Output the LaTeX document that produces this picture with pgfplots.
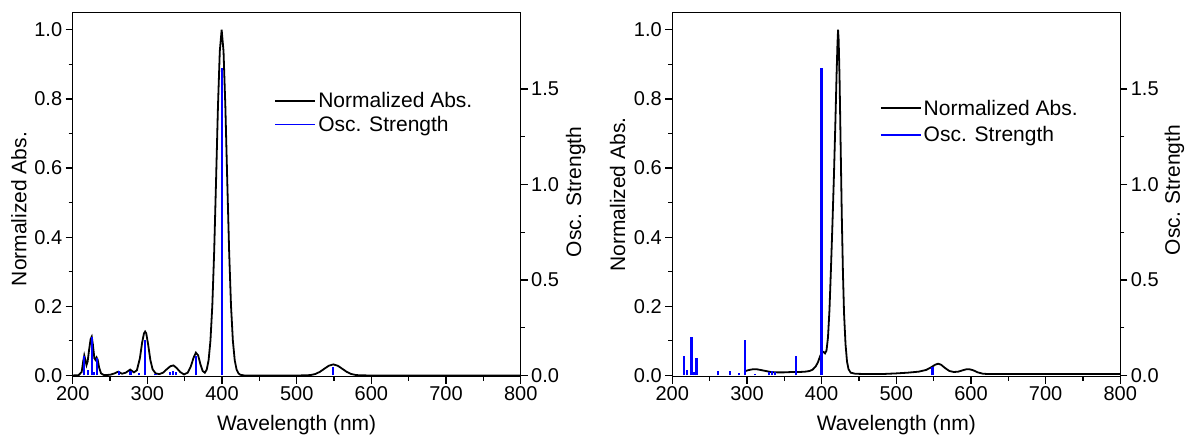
\documentclass[border=0pt]{standalone}
\usepackage{pgfplots}
\usepackage{pgfplotstable}
\pgfplotsset{compat=1.18}
\usepackage{fontspec}
\setmainfont{Liberation Sans}

% normalized absorption, left panel
\pgfplotstableread{
x y
200 0.000
208 0.001
212 0.010
214 0.040
215.5 0.058
217 0.045
218.5 0.030
220 0.040
222 0.075
224 0.105
225.5 0.112
227 0.090
229 0.050
230.5 0.045
232 0.052
233.5 0.045
235.5 0.022
238 0.006
242 0.001
250 0.002
256 0.006
261 0.011
266 0.005
271 0.008
277 0.017
282 0.009
286 0.015
290 0.050
293 0.095
295.5 0.122
297 0.127
298.5 0.122
301 0.090
304 0.045
307 0.018
311 0.006
316 0.004
321 0.008
326 0.018
331 0.027
335 0.029
339 0.022
344 0.010
349 0.003
354 0.008
358 0.025
362 0.052
365 0.066
368 0.058
371 0.033
374 0.013
377 0.008
379.5 0.017
382 0.044
384.5 0.101
387 0.203
389.5 0.360
392 0.563
394.5 0.775
397 0.938
399.5 1.000
402 0.938
404.5 0.775
407 0.563
409.5 0.360
412 0.203
414.5 0.101
417 0.044
419.5 0.017
422 0.006
424.5 0.002
430 0.000
500 0.000
513 0.0004
519 0.0014
525 0.0043
531 0.0104
537 0.0194
543 0.0282
549 0.0320
555 0.0282
561 0.0194
567 0.0104
573 0.0043
579 0.0014
585 0.0004
600 0.000
800 0.000
}\absL

% normalized absorption, right panel
\pgfplotstableread{
x y
298 0.013
303 0.016
308 0.018
313 0.018
318 0.016
325 0.013
332 0.010
340 0.009
350 0.009
360 0.010
370 0.010
378 0.011
384 0.013
388 0.017
392 0.026
395 0.038
398 0.056
400.5 0.066
402.5 0.068
404.5 0.064
406.5 0.072
408.5 0.110
410.5 0.190
412.5 0.310
414.5 0.440
416.5 0.580
418.5 0.740
420 0.870
421.2 0.960
422 1.000
422.8 0.970
424 0.860
425.5 0.660
427 0.460
428.5 0.300
430 0.180
432 0.090
434 0.040
436 0.018
439 0.008
445 0.005
460 0.004
480 0.004
500 0.006
515 0.008
530 0.011
540 0.016
547 0.024
552 0.031
556 0.034
560 0.031
565 0.022
571 0.013
577 0.010
583 0.011
589 0.015
594 0.018
598 0.018
603 0.015
609 0.009
616 0.005
625 0.004
700 0.004
800 0.004
}\absR

% oscillator strengths
\pgfplotstableread{
x f
215.5 0.100
220 0.030
225.8 0.200
229 0.020
232.5 0.090
261.5 0.025
277.5 0.025
289 0.015
297 0.185
311 0.008
330 0.020
334 0.025
338 0.020
365.5 0.100
399.7 1.610
548.5 0.045
}\osc

\newcommand{\labfont}{\fontsize{21}{25}\selectfont}
\newcommand{\tickfont}{\fontsize{20}{24}\selectfont}

\pgfplotsset{
  panel/.style={
    scale only axis, width=448pt, height=364pt,
    xmin=200, xmax=800,
    axis line style={line width=1.2pt},
    every tick/.style={line width=1.2pt, black},
    major tick length=7pt, minor tick length=4pt,
    tick label style={font=\tickfont},
    /pgf/number format/assume math mode=true,
  },
  absaxis/.style={panel,
    ymin=-0.003, ymax=1.05,
    xtick={200,300,...,800}, minor x tick num=1,
    ytick={0,0.2,...,1.0}, minor y tick num=1,
    tick pos=left, tick align=outside,
    yticklabel style={/pgf/number format/fixed, /pgf/number format/fixed zerofill, /pgf/number format/precision=1},
    xlabel={Wavelength (nm)}, ylabel={Normalized Abs.},
    every axis x label/.style={at={(axis description cs:0.5,-0.133)}, anchor=center, font=\labfont},
    legend cell align=left,
    legend image code/.code={\draw[##1] (0pt,0pt) -- (40pt,0pt);},
    legend style={draw=none, fill=none, font=\labfont,
      inner xsep=0pt, inner ysep=0pt, row sep=3pt, nodes={inner sep=2pt}},
  },
  oscaxis/.style={panel,
    ymin=-0.0054, ymax=1.9,
    axis x line=none, axis y line*=right,
    ytick={0,0.5,...,1.5}, minor y tick num=1,
    yticklabel style={/pgf/number format/fixed, /pgf/number format/fixed zerofill, /pgf/number format/precision=1},
    ylabel={Osc. Strength},
    tick align=outside,
  },
}

\begin{document}
\begin{tikzpicture}
\useasboundingbox (-72.7pt,-59.5pt) rectangle (1117.3pt,376.5pt);

% left panel
\begin{axis}[absaxis, at={(0pt,0pt)}, anchor=south west,
  every axis y label/.style={at={(axis description cs:-0.12,0.46)}, rotate=90, anchor=center, font=\labfont},
  legend style={at={(axis description cs:0.45,0.725)}, anchor=west}]
\addplot[black, line width=1.8pt] table[x=x, y=y] {\absL};
\addlegendentry{Normalized Abs.}
\addlegendimage{blue, line width=1.8pt}
\addlegendentry{Osc. Strength}
\end{axis}
\begin{axis}[oscaxis, at={(0pt,0pt)}, anchor=south west,
  every axis y label/.style={at={(axis description cs:1.123,0.507)}, rotate=90, anchor=center, font=\labfont}]
\addplot[ycomb, blue, line width=2.2pt, mark=none] table[x=x, y=f] {\osc};
\end{axis}

% right panel
\begin{axis}[absaxis, at={(599.6pt,0pt)}, anchor=south west,
  every axis y label/.style={at={(axis description cs:-0.122,0.5)}, rotate=90, anchor=center, font=\labfont},
  legend style={at={(axis description cs:0.463,0.70)}, anchor=west, row sep=6pt}]
\addplot[black, line width=1.8pt] table[x=x, y=y] {\absR};
\addlegendentry{Normalized Abs.}
\addlegendimage{blue, line width=1.8pt}
\addlegendentry{Osc. Strength}
\end{axis}
\begin{axis}[oscaxis, at={(599.6pt,0pt)}, anchor=south west,
  every axis y label/.style={at={(axis description cs:1.121,0.512)}, rotate=90, anchor=center, font=\labfont}]
\addplot[ycomb, blue, line width=2.2pt, mark=none] table[x=x, y=f] {\osc};
\end{axis}
\end{tikzpicture}
\end{document}
